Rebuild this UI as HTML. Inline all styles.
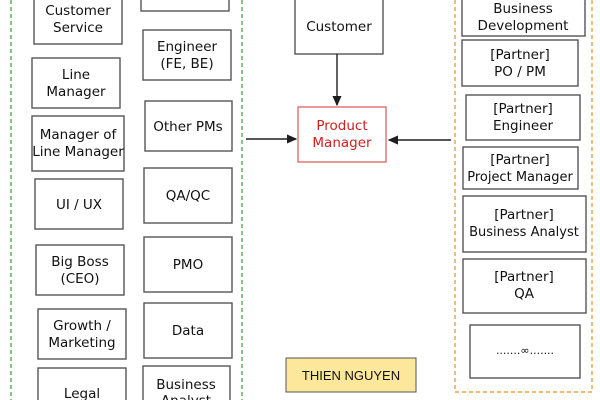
<!DOCTYPE html>
<html><head><meta charset="utf-8"><style>
html,body{margin:0;padding:0;background:#fff;}
svg{display:block;}
text{font-family:"DejaVu Sans","Liberation Sans",sans-serif;font-size:13.5px;fill:#111;text-anchor:middle;}
.b{fill:#fff;stroke:#555;stroke-width:1.4;}
</style></head><body>
<svg width="600" height="400" viewBox="0 0 600 400" xmlns="http://www.w3.org/2000/svg">
<defs><marker id="ar" markerWidth="10" markerHeight="10" refX="9" refY="5" orient="auto" markerUnits="userSpaceOnUse"><path d="M0,1 L9,5 L0,9 Z" fill="#1e1e1e" stroke="#1e1e1e" stroke-width="1"/></marker></defs>
<line x1="11" y1="0" x2="11" y2="400" stroke="#3a9a3a" stroke-width="1.2" stroke-dasharray="4,3"/>
<line x1="242" y1="0" x2="242" y2="400" stroke="#3a9a3a" stroke-width="1.2" stroke-dasharray="4,3"/>
<path d="M455,0 V392 H592 V0" fill="none" stroke="#f0a040" stroke-width="1.4" stroke-dasharray="4,3"/>

<rect class="b" x="34" y="-10" width="88" height="54"/><text x="78" y="15">Customer</text><text x="78" y="32">Service</text>
<rect class="b" x="32" y="58" width="88" height="50"/><text x="76" y="79">Line</text><text x="76" y="96">Manager</text>
<rect class="b" x="32" y="116" width="92" height="55"/><text x="78" y="139">Manager of</text><text x="78" y="156">Line Manager</text>
<rect class="b" x="35" y="179" width="88" height="50"/><text x="79" y="209">UI / UX</text>
<rect class="b" x="36" y="245" width="88" height="50"/><text x="80" y="266">Big Boss</text><text x="80" y="283">(CEO)</text>
<rect class="b" x="38" y="309" width="88" height="50"/><text x="82" y="330">Growth /</text><text x="82" y="347">Marketing</text>
<rect class="b" x="38" y="368" width="88" height="50"/><text x="82" y="398">Legal</text>

<rect class="b" x="141" y="-10" width="88" height="21"/>
<rect class="b" x="143" y="30" width="88" height="50"/><text x="187" y="51">Engineer</text><text x="187" y="68">(FE, BE)</text>
<rect class="b" x="145" y="101" width="87" height="50"/><text x="188" y="131">Other PMs</text>
<rect class="b" x="144" y="168" width="88" height="55"/><text x="188" y="200">QA/QC</text>
<rect class="b" x="144" y="237" width="88" height="55"/><text x="188" y="269">PMO</text>
<rect class="b" x="144" y="303" width="88" height="55"/><text x="188" y="335">Data</text>
<rect class="b" x="143" y="366" width="87" height="50"/><text x="186" y="389">Business</text><text x="186" y="405">Analyst</text>

<rect class="b" x="295" y="-10" width="88" height="64"/><text x="339" y="31">Customer</text>
<rect x="298" y="107" width="88" height="55" fill="#fff" stroke="#e06060" stroke-width="1.3"/>
<text x="342" y="130" style="fill:#d02020">Product</text><text x="342" y="147" style="fill:#d02020">Manager</text>
<line x1="337" y1="54" x2="337" y2="105" stroke="#1e1e1e" stroke-width="1.4" marker-end="url(#ar)"/>
<line x1="246" y1="139" x2="296" y2="139" stroke="#1e1e1e" stroke-width="1.4" marker-end="url(#ar)"/>
<line x1="451" y1="140" x2="389" y2="140" stroke="#1e1e1e" stroke-width="1.4" marker-end="url(#ar)"/>
<rect x="286" y="358" width="130" height="34" fill="#fce79a" stroke="#555" stroke-width="1"/>
<text x="351" y="380" style="font-family:'Liberation Sans',sans-serif;font-size:13px">THIEN NGUYEN</text>

<rect class="b" x="462" y="-10" width="123" height="46"/><text x="523" y="13">Business</text><text x="523" y="30">Development</text>
<rect class="b" x="462" y="40" width="116" height="46"/><text x="520" y="59">[Partner]</text><text x="520" y="76">PO / PM</text>
<rect class="b" x="466" y="95" width="114" height="45"/><text x="523" y="113">[Partner]</text><text x="523" y="130">Engineer</text>
<rect class="b" x="463" y="147" width="115" height="42"/><text x="520" y="164">[Partner]</text><text x="520" y="181" style="font-size:13px">Project Manager</text>
<rect class="b" x="463" y="196" width="123" height="56"/><text x="524" y="219">[Partner]</text><text x="524" y="236" style="font-size:13px">Business Analyst</text>
<rect class="b" x="463" y="259" width="123" height="54"/><text x="524" y="281">[Partner]</text><text x="524" y="298">QA</text>
<rect class="b" x="470" y="325" width="110" height="53"/><text x="525" y="354" style="font-size:11px">.......∞.......</text>
</svg>
</body></html>
